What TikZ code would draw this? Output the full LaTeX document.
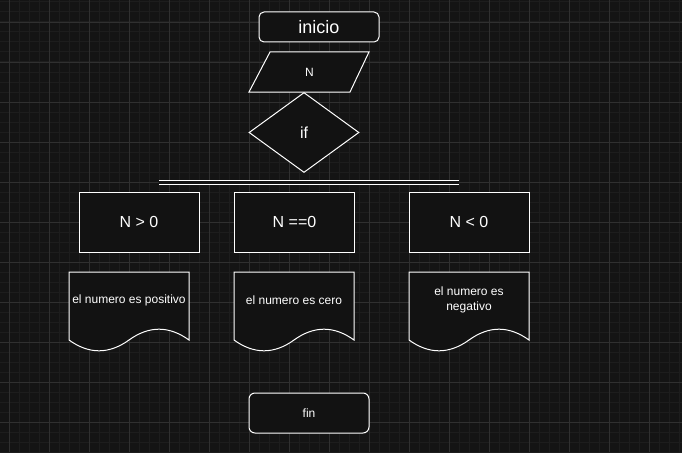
\documentclass[tikz,border=0pt]{standalone}
\usepackage{fontspec}
\setmainfont{Liberation Sans}
\usetikzlibrary{shapes.geometric}

\definecolor{canvas}{HTML}{141414}
\definecolor{minorgrid}{HTML}{1D1D1D}
\definecolor{majorgrid}{HTML}{303030}
\definecolor{shapefill}{HTML}{121212}

\begin{document}
\begin{tikzpicture}[x=1pt, y=-1pt,
    every node/.style={text=white, font=\fontsize{12}{14.4}\selectfont},
    outline/.style={draw=white, fill=shapefill, line width=1pt},
    terminal/.style={outline, rounded corners=5pt, minimum width=120pt, minimum height=30pt, inner sep=0pt},
    decision/.style={outline, diamond, aspect=1.375, minimum width=110pt, minimum height=80pt, inner sep=0pt},
    condbox/.style={outline, rectangle, minimum width=120pt, minimum height=60pt, inner sep=0pt,
      font=\fontsize{16}{19}\selectfont},
    doclabel/.style={align=center, inner sep=0pt}
  ]

        % Canvas with grid
        \useasboundingbox (0,0) rectangle (682,452);
        \fill[canvas] (0,0) rectangle (682,452);
        \foreach \gx in {-1,9,...,681} \draw[minorgrid, line width=1pt] (\gx,0) -- (\gx,452);
        \foreach \gy in {2,12,...,452} \draw[minorgrid, line width=1pt] (0,\gy) -- (682,\gy);
        \foreach \gx in {9,49,...,649} \draw[majorgrid, line width=0.8pt] (\gx,0) -- (\gx,452);
        \foreach \gy in {22,62,...,422} \draw[majorgrid, line width=0.8pt] (0,\gy) -- (682,\gy);

        % Start, input and decision
        \node[terminal, font=\fontsize{18}{22}\selectfont] (inicio) at (319,27) {inicio};
        \draw[outline] (270,52) -- (369,52) -- (350,92) -- (249,92) -- cycle;
        \node (entrada) at (309.5,72) {N};
        \node[decision, font=\fontsize{16}{19}\selectfont] (si) at (304,132.5) {if};

        % Split bar
        \coordinate (barL) at (159,182.5);
        \coordinate (barR) at (459,182.5);
        \draw[draw=white, double=canvas, double distance=3pt, line width=1pt] (barL) -- (barR);

        % Conditions
        \node[condbox] (mayor) at (139,222) {N > 0};
        \node[condbox] (igual) at (294.5,222) {N ==0};
        \node[condbox] (menor) at (469,222) {N < 0};

        % Outputs
        \begin{scope}[shift={(69,272)}]
          \draw[outline] (0,0) -- (120,0) -- (120,68) .. controls (100,53.6) and (80,53.6) .. (60,68)
            .. controls (40,82.4) and (20,82.4) .. (0,68) -- cycle;
          \node[doclabel] (salpos) at (60,28) {el numero es positivo};
        \end{scope}
        \begin{scope}[shift={(234,272)}]
          \draw[outline] (0,0) -- (120,0) -- (120,68) .. controls (100,53.6) and (80,53.6) .. (60,68)
            .. controls (40,82.4) and (20,82.4) .. (0,68) -- cycle;
          \node[doclabel] (salcero) at (60,28) {el numero es cero};
        \end{scope}
        \begin{scope}[shift={(409,272)}]
          \draw[outline] (0,0) -- (120,0) -- (120,68) .. controls (100,53.6) and (80,53.6) .. (60,68)
            .. controls (40,82.4) and (20,82.4) .. (0,68) -- cycle;
          \node[doclabel] (salneg) at (60,28) {el numero es\\negativo};
        \end{scope}

        % End
        \node[terminal, minimum height=40pt, rounded corners=6pt] (fin) at (309,413) {fin};

\end{tikzpicture}
\end{document}
